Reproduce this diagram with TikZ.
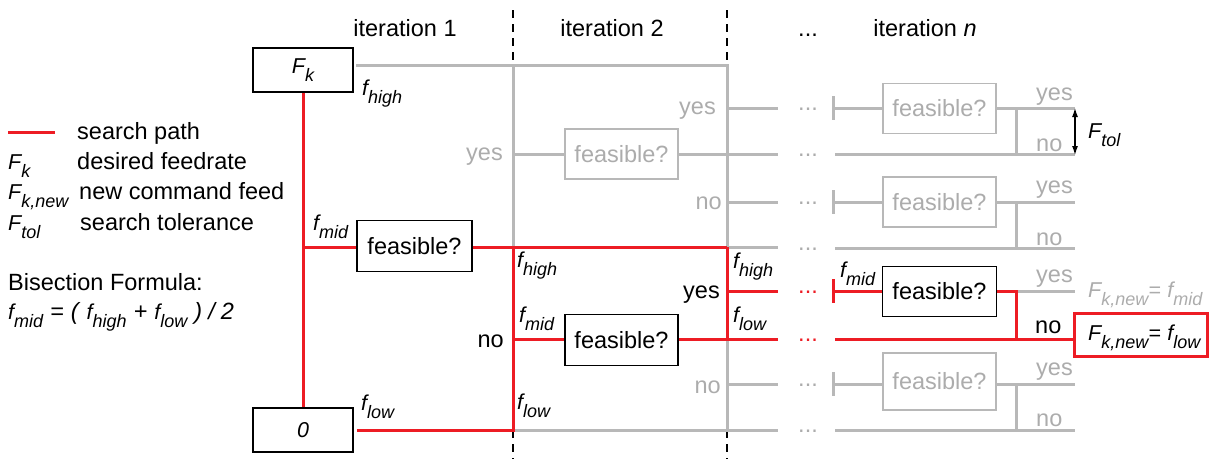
\documentclass[tikz,border=0pt]{standalone}
\usepackage{fontspec}
\setmainfont{Liberation Sans}
\usetikzlibrary{arrows.meta}
\definecolor{rd}{RGB}{237,28,36}
\definecolor{gl}{RGB}{184,184,184}
\definecolor{gt}{RGB}{172,172,172}
\newcommand\mainsz{\fontsize{23.5}{28}\selectfont}
\newcommand\itsz{\fontsize{21.5}{26}\selectfont\itshape}
\newcommand\symsz{\fontsize{23.5}{28}\selectfont\itshape}
\newcommand\ital[1]{{\itsz #1}}
\newcommand\sbs[2]{{\itsz #1\raisebox{-8pt}{\fontsize{18}{20}\selectfont #2}}}
\tikzset{
  gline/.style={gl, line width=3pt},
  rline/.style={rd, line width=3pt},
  bbox/.style={draw=black, line width=1.5pt, minimum width=#1, inner sep=0pt},
  gbox/.style={draw=gl, text=gt, line width=1.5pt, minimum width=113pt, minimum height=50pt, inner sep=0pt},
  lbl/.style={anchor=base west, inner sep=0pt},
  lble/.style={anchor=base east, inner sep=0pt},
  dots/.style={anchor=base, inner sep=0pt},
  divider/.style={black, line width=1.1pt, dash pattern=on 8pt off 6pt},
}
\begin{document}
\begin{tikzpicture}[x=1pt, y=-1pt, font=\mainsz, line join=miter]
\useasboundingbox (0,0) rectangle (1215,459);

% ---------- dividers ----------
\coordinate (d1t) at (513,10);  \coordinate (d1b) at (513,459);
\coordinate (d2t) at (727,10);  \coordinate (d2b) at (727,459);
\draw[divider] (d1t) -- (d1b);
\draw[divider] (d2t) -- (d2b);

% ---------- header ----------
\node[dots] (it1) at (405,36) {iteration 1};
\node[dots] (it2) at (612,36) {iteration 2};
\node[dots] (itd) at (808,36) {...};
\node[dots] (itn) at (925,36) {iteration \textit{n}};

% ---------- legend ----------
\coordinate (lg1) at (8,132); \coordinate (lg2) at (55,132);
\draw[rline] (lg1) -- (lg2);
\node[lbl] (lsp) at (77,139) {search path};
\node[lbl] (lfk) at (8,169) {\sbs{F}{k}};
\node[lbl] (lfkt) at (77,169) {desired feedrate};
\node[lbl] (lfn) at (8,199) {\sbs{F}{k,new}};
\node[lbl] (lfnt) at (79,199) {new command feed};
\node[lbl] (lft) at (8,230) {\sbs{F}{tol}};
\node[lbl] (lftt) at (80,230) {search tolerance};
\node[lbl] (bis) at (8,290) {Bisection Formula:};
\node[lbl] (form) at (8,319) {\sbs{f}{mid}{\symsz\hspace{7pt}=\hspace{7pt}(\hspace{8pt}}\sbs{f}{high}{\symsz\hspace{7pt}+\hspace{7pt}}\sbs{f}{low}{\symsz\hspace{7pt})\hspace{6pt}/\hspace{6pt}2}};

% ---------- boxes ----------
\node[bbox=100pt, minimum height=44pt] (Fk) at (303,70) {\sbs{F}{k}};
\node[bbox=100pt, minimum height=44pt] (zero) at (303,430) {\ital{0}};
\node[bbox=115pt, minimum height=51pt] (fe1) at (414.5,246) {feasible?};
\node[gbox] (fe2g) at (621.5,154) {feasible?};
\node[bbox=113pt, minimum height=51pt] (fe2) at (621.5,340) {feasible?};
\node[gbox] (fn1) at (939.5,108.5) {feasible?};
\node[gbox] (fn2) at (939.5,202) {feasible?};
\node[bbox=114pt, minimum height=50pt] (fn) at (939.5,291.5) {feasible?};
\node[gbox, minimum height=57pt] (fn3) at (939.5,381.5) {feasible?};
\node[draw=rd, line width=3pt, minimum width=133pt, minimum height=43pt, inner sep=0pt] (res) at (1141,334.5) {};

% ---------- coordinates ----------
\coordinate (hi1) at (356,65);
\coordinate (t2) at (513,65);  \coordinate (t3) at (727,65);
\coordinate (y2) at (513,154); \coordinate (y3e) at (778,154);
\coordinate (h2) at (513,247); \coordinate (h3) at (727,247); \coordinate (h3e) at (778,247);
\coordinate (m1) at (304,247);
\coordinate (m2) at (513,339); \coordinate (lo3) at (727,339); \coordinate (lo3e) at (778,339);
\coordinate (hy3) at (727,291); \coordinate (hy3e) at (778,291);
\coordinate (l2) at (513,430); \coordinate (l3) at (727,430); \coordinate (l3e) at (778,430);
\coordinate (r1a) at (727,108); \coordinate (r1b) at (778,108);
\coordinate (r2a) at (727,202); \coordinate (r2b) at (778,202);
\coordinate (r4a) at (729,384); \coordinate (r4b) at (778,384);

% ---------- gray connectors ----------
\draw[gline] (hi1) -- (t3) -- (l3);
\draw[gline] (t2) -- (h2);
\draw[gline] (y2) -- (y2 -| fe2g.west);
\draw[gline] (y3e -| fe2g.east) -- (y3e);
\draw[gline] (l2) -- (l3e);
\draw[gline] (h3) -- (h3e);
\draw[gline] (r1a) -- (r1b);
\draw[gline] (r2a) -- (r2b);
\draw[gline] (r4a) -- (r4b);

% right part, gray branches
\foreach \b/\y in {fn1/108, fn2/202, fn3/384} {
  \coordinate (st\b a) at (833,\y-12);
  \coordinate (st\b b) at (833,\y+12);
  \coordinate (st\b) at (833,\y);
  \coordinate (j\b) at (1016,\y);
  \coordinate (j\b d) at (1016,\y+46.5);
  \coordinate (e\b) at (1075,\y);
  \draw[gline] (st\b a) -- (st\b b);
  \draw[gline] (st\b) -- (st\b -| \b.west);
  \draw[gline] (e\b -| \b.east) -- (e\b);
  \draw[gline] (j\b) -- (j\b d);
}
\foreach \y in {154.5, 248, 430} {
  \coordinate (bl) at (835,\y); \coordinate (br) at (1075,\y);
  \draw[gline] (bl) -- (br);
}
\coordinate (jny) at (1016,291); \coordinate (eny) at (1075,291);
\draw[gline] (jny) -- (eny);

% ---------- red search path ----------
\draw[rline] (Fk.south) -- (zero.north);
\draw[rline] (m1) -- (m1 -| fe1.west);
\draw[rline] (h3 -| fe1.east) -- (h3);
\draw[rline] ([xshift=3pt]zero.east) -- (l2) -- (h2);
\draw[rline] (m2) -- (m2 -| fe2.west);
\draw[rline] (lo3e -| fe2.east) -- (lo3e);
\draw[rline] (h3) -- (lo3);
\draw[rline] (hy3) -- (hy3e);
\coordinate (sna) at (833,279); \coordinate (snb) at (833,303); \coordinate (sn) at (833,291);
\draw[rline] (sna) -- (snb);
\draw[rline] (sn) -- (sn -| fn.west);
\coordinate (jn2) at (1016,339);
\draw[rline] (jny -| fn.east) -- (jny) -- (jn2);
\coordinate (lo4) at (835,339);
\draw[rline] (lo4) -- (lo4 -| res.west);

% ---------- dots ----------
\foreach \y in {108, 154.5, 202, 248, 384, 430} {
  \node[dots, text=gt] at (808,\y+2) {...};
}
\node[dots, text=rd] (rd1) at (808,293) {...};
\node[dots, text=rd] (rd2) at (808,341) {...};

% ---------- labels ----------
\node[lbl] (la1) at (362,95) {\sbs{f}{high}};
\node[lbl] (la2) at (313,230) {\sbs{f}{mid}};
\node[lbl] (la3) at (361,410) {\sbs{f}{low}};
\node[lbl] (la4) at (517,267) {\sbs{f}{high}};
\node[lbl] (la5) at (519,322) {\sbs{f}{mid}};
\node[lbl] (la6) at (517,409) {\sbs{f}{low}};
\node[lbl] (la7) at (733,268) {\sbs{f}{high}};
\node[lbl] (la8) at (733,322) {\sbs{f}{low}};
\node[lbl] (la9) at (840,277) {\sbs{f}{mid}};

\node[lble] (no2) at (504,347) {no};
\node[lble] (yes3) at (720,298) {yes};
\node[lble, text=gt] (yes2) at (503,160) {yes};
\node[lble, text=gt] (y3a) at (716,114) {yes};
\node[lble, text=gt] (n3a) at (722,209) {no};
\node[lble, text=gt] (n3b) at (721,393) {no};

\node[lbl, text=gt] (ry1) at (1036,100) {yes};
\node[lbl, text=gt] (rn1) at (1036,151) {no};
\node[lbl, text=gt] (ry2) at (1036,193) {yes};
\node[lbl, text=gt] (rn2) at (1036,245) {no};
\node[lbl, text=gt] (ry3) at (1036,282) {yes};
\node[lbl] (rn3) at (1035,333) {no};
\node[lbl, text=gt] (ry4) at (1036,375) {yes};
\node[lbl, text=gt] (rn4) at (1036,426) {no};

% tolerance
\coordinate (ft1) at (1075,108); \coordinate (ft2) at (1075,155);
\draw[{Latex[length=9pt,width=6pt]}-{Latex[length=9pt,width=6pt]}, line width=1.2pt] (ft1) -- (ft2);
\node[lbl] (ftl) at (1088,138) {\sbs{F}{tol}};

% results
\node[lbl, text=gt] (rmid) at (1088,297) {\sbs{F}{k,new}{\itsz =} \sbs{f}{mid}};
\node[lbl] (rlow) at (1088,340) {\sbs{F}{k,new}{\itsz =} \sbs{f}{low}};
\end{tikzpicture}
\end{document}
